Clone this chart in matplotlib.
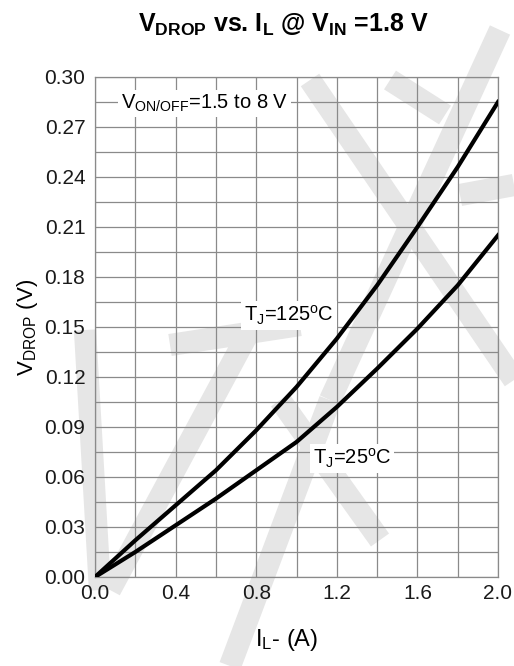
import numpy as np
import matplotlib
matplotlib.use("Agg")
from matplotlib import pyplot as plt
from matplotlib.lines import Line2D
from matplotlib.ticker import MultipleLocator

plt.rcParams['font.family'] = ['Liberation Sans', 'DejaVu Sans']
plt.rcParams['mathtext.fontset'] = 'custom'
plt.rcParams['mathtext.rm'] = 'Liberation Sans'
plt.rcParams['mathtext.it'] = 'Liberation Sans'
plt.rcParams['mathtext.bf'] = 'Liberation Sans:bold'

# data
current = [0.0, 0.2, 0.4, 0.6, 0.8, 1.0, 1.2, 1.4, 1.6, 1.8, 2.0]
vdrop_125 = [0.0, 0.022, 0.043, 0.064, 0.088, 0.114, 0.143, 0.175, 0.210, 0.246, 0.285]
vdrop_25 = [0.0, 0.015, 0.031, 0.047, 0.064, 0.081, 0.102, 0.125, 0.149, 0.175, 0.205]

x_ticks = [0.0, 0.4, 0.8, 1.2, 1.6, 2.0]
y_ticks = [0.00, 0.03, 0.06, 0.09, 0.12, 0.15, 0.18, 0.21, 0.24, 0.27, 0.30]

W, H = 514, 666
fig = plt.figure(figsize=(W / 100, H / 100), dpi=100, facecolor='white')
ax = fig.add_axes([95 / W, 1 - 577 / H, 403 / W, 500 / H])
ax.set_facecolor('none')

ax.plot(current, vdrop_125, color='black', lw=3, zorder=3)
ax.plot(current, vdrop_25, color='black', lw=3, zorder=3)

ax.set_xlim(0, 2.0)
ax.set_ylim(0, 0.30)
ax.set_xticks(x_ticks)
ax.set_yticks(y_ticks)
ax.set_xticklabels(['%.1f' % v for v in x_ticks])
ax.set_yticklabels(['%.2f' % v for v in y_ticks])
ax.xaxis.set_minor_locator(MultipleLocator(0.2))
ax.yaxis.set_minor_locator(MultipleLocator(0.015))
ax.grid(True, which='both', color='#8a8a8a', lw=0.9)
ax.set_axisbelow(True)
ax.tick_params(which='both', length=0, labelsize=15, colors='#1a1a1a')
ax.tick_params(axis='x', pad=5)
ax.tick_params(axis='y', pad=7)
for s in ax.spines.values():
    s.set_color('#8a8a8a')
    s.set_linewidth(0.9)

ax.set_xlabel(r'I$_\mathregular{L}$- (A)', fontsize=17)
ax.xaxis.set_label_coords(0.476, -0.1)
ax.set_ylabel(r'V$_\mathregular{DROP}$ (V)', fontsize=16, labelpad=3)

box = dict(facecolor='white', edgecolor='none', pad=2)
ax.text(0.13, 0.284, r'V$_\mathregular{ON/OFF}$=1.5 to 8 V', fontsize=14.5,
        va='center', ha='left', bbox=box, zorder=2)
ax.text(0.74, 0.157, r'T$_\mathregular{J}$=125$^\mathregular{o}$C', fontsize=14.5,
        va='center', ha='left', bbox=box, zorder=2)
ax.text(1.08, 0.071, r'T$_\mathregular{J}$=25$^\mathregular{o}$C', fontsize=14.5,
        va='center', ha='left', bbox=box, zorder=2)

fig.text(0.552, 1 - 32 / H,
         r'$\mathbf{V_{DROP}}$ vs. $\mathbf{I_L}$ @ $\mathbf{V_{IN}}$ =1.8 V',
         fontsize=18, fontweight='bold', ha='center', va='baseline')

# faint watermark strokes behind the grid
marks = [
    [(85, 330), (100, 590)],
    [(110, 590), (250, 330)],
    [(170, 345), (300, 325)],
    [(280, 400), (380, 540)],
    [(310, 80), (514, 380)],
    [(500, 30), (330, 400)],
    [(330, 400), (230, 666)],
    [(390, 80), (445, 115)],
    [(460, 195), (514, 185)],
]
for (x0, y0), (x1, y1) in marks:
    fig.add_artist(Line2D([x0 / W, x1 / W], [1 - y0 / H, 1 - y1 / H],
                          transform=fig.transFigure, color='#e6e6e6',
                          lw=16, solid_capstyle='butt', zorder=-1))

fig.savefig('out.png', dpi=100, facecolor='white')
